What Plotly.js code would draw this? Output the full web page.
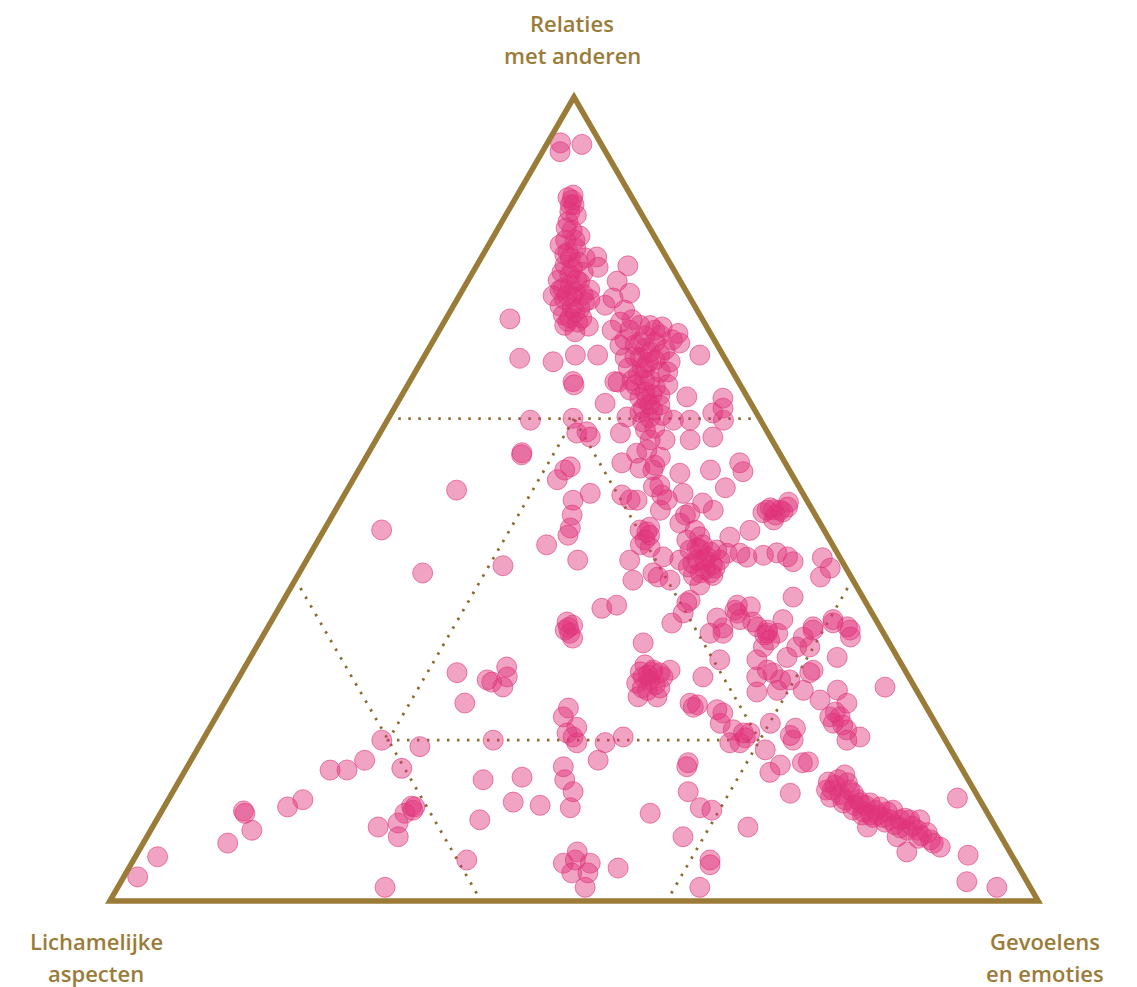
<!DOCTYPE html>
<html>
<head>
<meta charset="utf-8">
<script src="https://cdn.plot.ly/plotly-3.0.1.min.js"></script>
<style>html,body{margin:0;padding:0;background:#fff;}#chart{width:1137px;height:987px;}</style>
</head>
<body>
<div id="chart"></div>
<script>
// Axis labels
const labelRelaties = ["Relaties", "met anderen"];
const labelLichamelijk = ["Lichamelijke", "aspecten"];
const labelGevoelens = ["Gevoelens", "en emoties"];

// Data (percent): a = Relaties met anderen, b = Lichamelijke aspecten, c = Gevoelens en emoties
const relaties = [94.3,93.2,94.2,87.2,86.6,85.7,84.5,82.7,82.2,81.2,80.4,80.1,78.9,79.0,79.5,77.9,77.0,76.2,76.0,75.2,75.2,74.5,74.0,73.3,72.0,72.5,70.8,72.4,74.1,75.0,75.6,77.1,72.0,71.0,70.3,71.5,71.4,70.6,69.4,67.9,68.5,68.8,67.7,67.3,66.3,65.8,64.8,64.8,64.6,63.3,62.9,63.6,64.2,61.7,60.8,60.4,69.2,71.0,69.5,67.5,67.5,67.0,67.9,67.9,64.6,64.2,61.9,64.6,62.7,62.6,61.3,60.7,59.8,60.1,58.2,58.3,57.7,55.7,55.5,53.6,54.0,52.4,51.1,46.1,40.8,49.9,50.7,48.0,46.4,45.5,44.3,42.4,41.7,36.4,36.8,34.7,33.3,32.7,33.7,54.5,49.9,49.9,50.5,46.1,45.9,44.0,42.4,39.9,40.8,60.2,58.2,55.7,59.6,61.1,59.8,59.8,57.7,59.8,57.3,56.1,55.2,53.6,53.2,53.6,54.5,53.4,51.4,51.5,49.9,50.7,49.5,48.6,48.3,48.6,46.5,44.9,47.0,44.9,45.3,43.7,42.4,42.0,42.8,43.7,45.3,43.3,40.8,40.8,42.8,40.3,39.9,43.3,46.1,42.8,43.0,43.3,42.8,42.2,48.6,48.6,48.6,49.0,49.6,47.4,48.3,42.7,40.3,41.4,37.4,34.6,35.8,35.2,36.8,36.6,35.8,33.3,34.1,33.3,35.0,37.8,34.1,34.6,33.7,33.3,28.4,27.2,29.1,27.9,26.6,27.5,24.6,24.0,22.9,21.6,20.9,20.4,19.7,19.7,17.5,20.0,19.2,20.0,17.5,16.5,15.1,15.4,16.7,15.1,13.6,12.3,11.9,11.6,11.3,10.9,32.1,27.9,28.7,27.1,27.9,28.7,25.4,25.4,26.2,28.4,27.9,30.0,37.1,24.1,24.6,23.8,23.4,22.1,21.3,20.9,20.9,19.7,19.7,22.1,18.8,16.0,16.9,21.5,20.0,17.2,17.3,13.4,17.2,13.6,20.4,36.2,34.7,33.3,34.0,35.0,33.7,32.5,31.6,30.0,28.7,27.9,28.4,27.5,27.5,26.0,26.2,30.3,31.6,32.8,33.7,31.6,28.7,28.4,26.2,25.0,35.0,34.1,32.8,30.3,26.2,24.6,22.9,22.9,22.1,21.3,20.4,20.0,20.6,26.6,15.1,14.7,12.9,12.2,13.4,12.2,12.2,11.7,10.4,10.4,11.3,10.1,10.1,10.1,10.1,8.0,8.8,8.8,8.5,7.2,6.7,6.1,11.3,9.2,12.8,5.7,2.4,1.7,15.7,13.8,11.1,9.1,7.6,10.7,3.0,5.5,10.9,8.8,7.2,11.7,12.6,16.3,16.3,9.2,9.7,8.0,11.7,1.7,10.1,5.1,4.7,6.1,4.7,3.5,3.5,1.7,5.1,4.1,10.9,16.7,11.6,11.3,8.0,5.1,4.5,1.7,9.2,87.4,85.3,79.1,78.2,72.9,71.5,77.2,69.8,68.3,65.4,63.9,62.3,67.0,57.3,53.9,57.3,58.8,51.7,43.9,42.4,41.8,41.5,42.4,39.3,27.5,29.4,26.5,
  83.5,81.6,80.0,76.6,75.8,74.8,73.8,72.5,76.0,74.8,78.7,80.7,72.0,73.5,71.6,70.4,69.8,69.2,67.0,66.3,64.8,61.7,60.1,62.6,58.6,54.2,50.5,48.0,46.1,43.7,40.5,40.5,45.5,44.3,48.0,48.4,28.1,26.9,28.5,24.4,20.3,23.5,21.9,33.1,34.0,34.3,11.2,11.8,14.4,13.8,12.6,11.9,11.3,11.1,9.5,9.3,8.1,13.2,10.7,14.8,87.8,
  86.6,83.7,82.2,80.0,78.2,77.2,75.4,75.4,73.8,71.6,72.3,71.0,69.5,67.9,66.3,64.2,62.9,61.3,67.5,65.8,44.3,43.4,42.4,41.4,41.2,13.8,12.6,11.9,10.7,9.8,10.3,7.8,28.5,26.5,48.9];
const lichamelijk = [4.3,4.9,2.1,6.6,6.7,7.6,8.4,8.0,9.8,9.2,10.8,7.5,8.0,4.7,9.8,11.5,10.9,13.1,10.3,14.6,12.6,11.6,14.5,13.3,14.6,12.9,14.5,20.7,9.6,8.3,6.2,6.8,9.0,8.5,7.2,6.0,4.8,3.5,3.9,2.5,5.9,8.0,9.6,7.6,9.5,7.8,9.4,11.4,13.3,10.7,9.3,12.2,7.8,11.0,12.5,10.3,10.5,10.4,6.5,9.1,22.1,18.7,15.9,13.5,17.8,17.9,15.7,13.0,6.5,2.7,3.3,4.7,24.8,20.1,20.6,19.4,19.4,27.7,27.9,24.2,23.4,25.6,37.1,47.6,45.9,25.2,22.9,26.2,27.2,27.9,30.8,28.4,36.8,28.8,27.0,33.4,33.8,33.8,34.1,17.6,19.0,18.3,19.6,19.8,19.2,19.8,22.8,23.7,21.1,14.2,15.9,15.4,12.8,11.0,9.4,7.6,6.2,4.0,8.8,14.1,13.1,14.7,12.0,8.5,4.9,5.1,8.0,15.7,15.0,12.9,11.4,10.7,13.4,16.4,18.6,19.9,15.1,15.4,13.8,15.7,17.4,16.2,14.3,12.8,10.6,11.9,14.9,16.0,19.0,20.8,19.7,10.5,8.0,10.0,8.1,6.5,5.6,5.3,4.9,4.2,3.5,2.5,2.1,4.8,5.5,1.9,3.3,1.7,18.8,22.2,20.3,17.0,14.0,12.7,14.5,17.3,13.2,12.5,10.0,7.5,7.2,4.8,3.4,11.4,48.4,45.2,42.7,43.3,44.3,45.6,49.4,38.6,39.7,38.9,40.3,39.9,39.9,36.8,38.6,60.7,57.0,48.7,63.8,60.3,52.3,47.9,42.8,43.5,43.3,50.4,47.7,44.6,61.7,62.7,26.5,28.6,27.1,29.7,26.5,25.3,30.4,28.4,29.0,26.6,22.2,19.3,19.3,25.1,25.2,22.7,22.3,23.2,22.2,21.3,20.6,23.4,22.3,17.8,20.0,20.9,19.3,15.4,16.4,16.8,16.1,20.0,29.1,30.9,34.5,14.6,13.4,18.7,17.0,14.6,12.3,12.7,13.8,15.3,14.8,16.4,14.4,14.0,13.0,17.3,15.0,11.9,10.2,8.9,7.4,8.8,9.9,10.4,12.2,11.0,4.6,3.5,3.8,6.5,8.5,8.3,11.0,9.9,11.0,10.0,9.0,10.6,16.4,3.2,14.0,13.2,15.9,14.9,13.2,13.1,12.0,11.2,12.6,11.5,10.0,10.9,9.8,8.8,7.7,11.2,9.7,8.6,7.7,7.7,7.2,11.1,14.3,13.8,2.3,4.7,6.5,3.6,13.0,15.9,13.3,10.3,7.8,11.9,95.5,92.1,80.0,80.3,83.7,75.0,72.9,68.2,66.3,66.5,64.1,65.0,61.3,69.5,55.1,59.0,48.8,46.6,45.9,48.5,46.8,47.9,47.3,43.2,36.3,29.5,30.6,29.5,34.3,32.8,33.1,35.6,26.7,6.9,7.1,11.4,9.9,14.7,12.7,13.1,9.6,7.7,10.4,9.3,11.0,6.1,13.1,16.0,11.5,11.9,14.9,14.8,14.7,14.2,16.9,13.1,16.8,28.1,27.7,27.5,
  8.5,10.7,8.8,12.1,12.0,13.6,12.5,14.2,13.5,10.9,10.8,10.3,13.6,7.8,7.1,5.5,4.5,8.8,8.5,11.0,10.0,9.9,11.8,11.6,13.0,14.2,15.3,14.0,13.9,14.6,14.8,16.9,19.1,20.7,4.3,3.3,28.0,27.8,28.6,24.5,21.4,10.1,10.1,12.9,33.6,33.0,80.0,61.6,14.7,13.4,13.1,12.7,11.9,10.7,10.7,8.9,8.5,14.7,12.7,15.2,6.2,
  7.1,9.0,8.8,10.4,12.2,11.1,13.1,11.3,13.3,15.2,7.6,5.8,8.1,6.8,9.2,11.3,10.1,11.9,10.7,7.0,14.0,13.6,15.5,14.1,15.3,15.3,14.5,13.8,13.6,11.6,9.2,9.0,27.4,29.4,4.4];
const gevoelens = [1.4,1.9,3.8,6.2,6.7,6.7,7.1,9.3,8.0,9.6,8.8,12.4,13.2,16.3,10.7,10.6,12.1,10.7,13.7,10.1,12.2,13.9,11.5,13.5,13.3,14.6,14.7,6.9,16.3,16.7,18.2,16.1,19.0,20.5,22.5,22.4,23.8,25.9,26.7,29.6,25.5,23.3,22.7,25.1,24.2,26.4,25.8,23.9,22.1,26.0,27.8,24.3,28.0,27.3,26.7,29.3,20.4,18.6,24.0,23.3,10.4,14.2,16.2,18.6,17.6,17.9,22.4,22.5,30.8,34.8,35.4,34.6,15.4,19.9,21.2,22.2,22.9,16.5,16.6,22.2,22.6,22.0,11.8,6.2,13.3,25.0,26.4,25.8,26.4,26.6,24.9,29.2,21.5,34.8,36.2,31.9,32.9,33.5,32.2,27.9,31.1,31.9,29.9,34.0,34.9,36.2,34.8,36.4,38.1,25.6,25.9,28.9,27.6,28.0,30.8,32.6,36.1,36.2,33.8,29.8,31.7,31.7,34.8,37.9,40.6,41.5,40.6,32.8,35.1,36.4,39.1,40.7,38.4,35.0,34.9,35.2,37.9,39.7,40.9,40.7,40.2,41.8,42.9,43.6,44.2,44.9,44.3,43.2,38.2,38.9,40.4,46.3,45.9,47.3,48.9,50.2,51.6,52.5,46.5,47.1,47.9,48.5,48.3,47.8,46.2,55.4,56.4,56.9,43.8,43.3,43.8,47.8,49.2,50.7,49.7,49.4,52.7,54.1,55.0,54.7,58.7,60.6,62.9,55.3,23.2,27.5,28.2,28.9,29.0,26.9,25.9,37.4,37.4,39.5,38.8,39.7,40.5,43.5,43.8,19.3,23.8,31.3,18.7,23.2,32.7,36.7,40.5,41.5,43.1,37.3,40.4,43.8,27.0,26.3,41.4,43.5,44.1,43.2,45.7,46.0,44.2,46.3,44.8,45.1,50.0,50.7,43.6,50.8,50.2,53.5,54.4,54.7,56.5,57.8,58.5,57.0,58.1,60.1,61.2,63.1,63.7,63.1,63.6,66.0,66.6,66.6,53.7,55.5,45.1,49.3,51.9,48.0,49.1,50.4,54.0,54.9,54.6,54.7,56.4,55.8,57.3,58.5,59.5,56.7,58.8,57.8,58.2,58.3,58.9,59.6,61.4,61.2,61.6,64.0,60.4,62.4,63.3,63.2,65.2,67.1,66.1,67.2,66.8,68.8,70.6,69.4,63.0,70.2,70.9,72.1,71.1,72.9,73.4,74.7,75.8,77.1,77.0,78.1,78.7,79.0,80.1,81.2,82.2,80.8,81.5,82.5,83.8,85.1,86.1,82.8,74.4,77.0,84.9,89.6,91.2,94.7,71.4,70.3,75.6,80.6,84.6,77.4,1.5,2.4,9.1,10.9,9.1,13.3,14.5,15.6,17.4,24.3,26.2,27.1,27.0,28.8,34.8,35.9,46.5,47.3,49.4,48.0,49.8,50.3,47.6,52.7,52.7,53.8,57.8,59.2,57.8,62.1,62.4,62.7,64.2,5.6,7.6,9.5,11.9,12.4,15.8,9.7,20.6,24.1,24.2,26.8,26.7,26.8,29.5,30.2,31.1,29.3,33.4,41.3,42.9,44.0,41.5,44.5,43.9,44.5,43.0,46.0,
  8.1,7.7,11.2,11.3,12.2,11.6,13.8,13.3,10.5,14.3,10.5,9.0,14.4,18.7,21.3,24.1,25.7,22.0,24.5,22.7,25.2,28.4,28.1,25.8,28.4,31.6,34.2,38.0,40.0,41.7,44.7,42.6,35.4,35.0,47.7,48.3,43.9,45.3,42.9,51.1,58.3,66.4,68.0,54.0,32.4,32.7,8.8,26.6,70.9,72.8,74.3,75.4,76.8,78.2,79.8,81.8,83.4,72.1,76.6,70.0,6.0,
  6.3,7.3,9.0,9.6,9.6,11.7,11.6,13.3,12.9,13.2,20.1,23.2,22.4,25.3,24.5,24.5,26.9,26.8,21.7,27.2,41.7,43.0,42.1,44.5,43.5,70.9,72.9,74.3,75.7,78.6,80.5,83.2,44.2,44.1,46.7];

// Reference guide lines (region boundaries at 20% / 60%)
const guideA = [60, 60, null, 40, 0, null, 40, 0, null, 60, 20, 20, 60];
const guideB = [40, 0, null, 60, 60, null, 0, 40, null, 20, 60, 20, 20];
const guideC = [0, 40, null, 0, 40, null, 60, 60, null, 20, 20, 60, 20];

const GOLD = '#9B7B38';
const W = 1137, H = 987;
const margin = {l: 11, r: 0, t: 97, b: 86};
const plotW = W - margin.l - margin.r, plotH = H - margin.t - margin.b;
const px = x => (x - margin.l) / plotW;
const py = y => 1 - (y - margin.t) / plotH;

// Triangle frame (paper coords), derived from the ternary geometry
const side = plotH * 2 / Math.sqrt(3);
const halfSideP = (side / 2) / plotW;
const framePath = `M ${0.5 - halfSideP},0 L ${0.5 + halfSideP},0 L 0.5,1 Z`;

const traces = [
  {type: 'scatterternary', mode: 'lines', a: guideA, b: guideB, c: guideC,
   line: {color: '#8A6C30', width: 2.8, dash: '2.5px,7.5px'}, hoverinfo: 'skip', showlegend: false, connectgaps: false},
  {type: 'scatterternary', mode: 'markers', a: relaties, b: lichamelijk, c: gevoelens,
   marker: {size: 20, color: 'rgba(224,52,122,0.45)', line: {color: 'rgba(224,52,122,0.6)', width: 1}},
   showlegend: false, cliponaxis: false}
];

const axisStyle = {showline: false, showgrid: false, showticklabels: false, ticks: '', title: {text: ''}};
const font = {family: '"Open Sans", "Noto Sans", sans-serif', size: 22, color: GOLD, weight: 600};

function lbl(text, x, y) {
  return {text: text, x: px(x), y: py(y), xref: 'paper', yref: 'paper', xanchor: 'center', yanchor: 'middle', showarrow: false, font: font};
}

const layout = {
  width: W, height: H,
  margin: margin,
  paper_bgcolor: '#fff',
  showlegend: false,
  ternary: {
    sum: 100,
    domain: {x: [0, 1], y: [0, 1]},
    bgcolor: 'rgba(0,0,0,0)',
    aaxis: axisStyle, baxis: axisStyle, caxis: axisStyle
  },
  shapes: [
    {type: 'path', xref: 'paper', yref: 'paper', path: framePath, line: {color: GOLD, width: 5.5}, fillcolor: 'rgba(0,0,0,0)', layer: 'above'}
  ],
  annotations: [
    lbl(labelRelaties[0], 572, 23), lbl(labelRelaties[1], 572, 55),
    lbl(labelLichamelijk[0], 96, 941), lbl(labelLichamelijk[1], 96, 973),
    lbl(labelGevoelens[0], 1045, 941), lbl(labelGevoelens[1], 1045, 973)
  ]
};

Plotly.newPlot('chart', traces, layout, {displayModeBar: false, staticPlot: true});
</script>
</body>
</html>
